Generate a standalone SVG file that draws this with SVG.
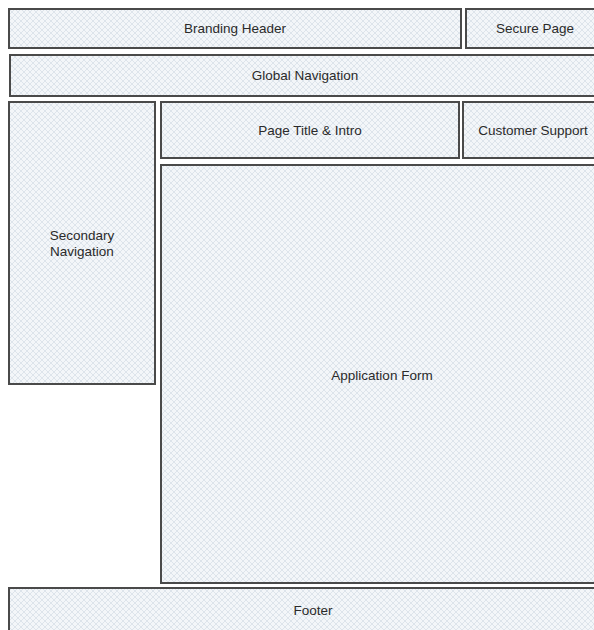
<svg xmlns="http://www.w3.org/2000/svg" width="594" height="630" viewBox="0 0 594 630">
<defs>
<pattern id="hatch" width="6" height="6" patternUnits="userSpaceOnUse">
<rect width="6" height="6" fill="#f3f6f9"/>
<path d="M0 0L6 6M6 0L0 6" stroke="#dde4eb" stroke-width="1"/>
</pattern>
</defs>
<style>
rect.box{fill:url(#hatch);stroke:#4a4a4a;stroke-width:2}
text{font-family:"Liberation Sans",Arial,sans-serif;font-size:13.5px;fill:#2a2a2a;text-anchor:middle}
</style>
<rect width="594" height="630" fill="#fff"/>
<g id="branding-header"><rect class="box" x="9" y="9" width="452" height="39"/><text x="235" y="33">Branding Header</text></g>
<g id="secure-page"><rect class="box" x="466" y="9" width="140" height="39"/><text x="535" y="33">Secure Page</text></g>
<g id="global-navigation"><rect class="box" x="10" y="55" width="600" height="41"/><text x="305" y="80">Global Navigation</text></g>
<g id="secondary-navigation"><rect class="box" x="9" y="102" width="146" height="282"/><text x="82" y="240">Secondary</text><text x="82" y="256">Navigation</text></g>
<g id="page-title"><rect class="box" x="161" y="102" width="298" height="56"/><text x="310" y="135">Page Title &amp; Intro</text></g>
<g id="customer-support"><rect class="box" x="463" y="102" width="140" height="56"/><text x="533" y="135">Customer Support</text></g>
<g id="application-form"><rect class="box" x="161" y="165" width="450" height="418"/><text x="382" y="380">Application Form</text></g>
<g id="footer"><rect class="box" x="9" y="588" width="600" height="60"/><text x="313" y="615">Footer</text></g>
<g id="connectors"/>
</svg>
